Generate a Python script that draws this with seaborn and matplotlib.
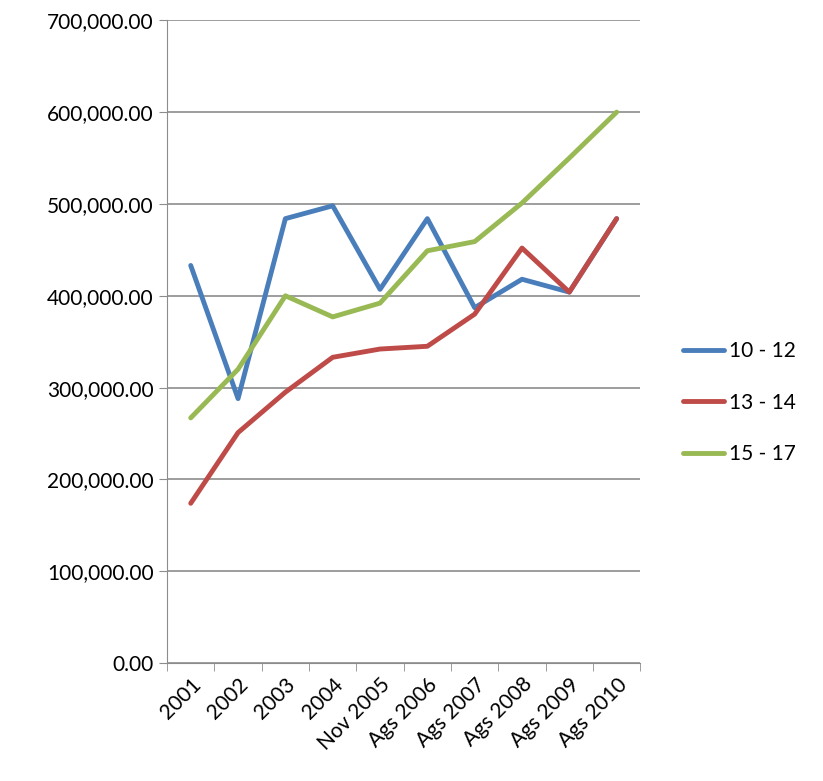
import matplotlib
matplotlib.use("Agg")
import matplotlib.pyplot as plt
import seaborn as sns
import pandas as pd

years = ["2001", "2002", "2003", "2004", "Nov 2005", "Ags 2006", "Ags 2007",
         "Ags 2008", "Ags 2009", "Ags 2010"]
age_10_12 = [433000, 288000, 484000, 498000, 407000, 484000, 387000, 418000, 404000, 484000]
age_13_14 = [174000, 251000, 295000, 333000, 342000, 345000, 380000, 452000, 404000, 484000]
age_15_17 = [267000, 320000, 400000, 377000, 392000, 449000, 459000, 501000, 550000, 600000]

df = pd.DataFrame({"year": years, "10 - 12": age_10_12,
                   "13 - 14": age_13_14, "15 - 17": age_15_17})
long = df.melt(id_vars="year", var_name="group", value_name="value")

sns.set_style("white")
plt.rcParams["font.family"] = ["Lato", "DejaVu Sans"]
plt.rcParams["text.color"] = "black"

fig = plt.figure(figsize=(8.23, 7.81), dpi=100)
ax = fig.add_axes([0.203, 0.151, 0.575, 0.823])
palette = {"10 - 12": "#4a7ebb", "13 - 14": "#be4b48", "15 - 17": "#98b954"}
sns.lineplot(data=long, x="year", y="value", hue="group", palette=palette,
             linewidth=3.5, sort=False, ax=ax)

ax.set_xlim(-0.5, len(years) - 0.5)
ax.set_ylim(0, 700000)
ax.set_yticks(range(0, 700001, 100000))
ax.set_yticklabels([f"{v:,.2f}" for v in range(0, 700001, 100000)], fontsize=15, color="black")
ax.set_xticks(range(len(years)))
ax.set_xticklabels(years, rotation=45, ha="right", rotation_mode="anchor", fontsize=15, color="black")
ax.set_xlabel("")
ax.set_ylabel("")
ax.grid(axis="y", color="#8c8c8c", linewidth=1.2)
for s in ["top", "right"]:
    ax.spines[s].set_visible(False)
for s in ["left", "bottom"]:
    ax.spines[s].set_color("#8c8c8c")
ax.tick_params(axis="both", length=6, color="#8c8c8c", direction="out", left=True, bottom=True)
ax.set_xticks([i + 0.5 for i in range(-1, len(years))], minor=True)
ax.tick_params(axis="x", which="major", length=0, pad=8)
ax.tick_params(axis="x", which="minor", length=6, color="#8c8c8c", bottom=True)

leg = ax.legend(loc="center left", bbox_to_anchor=(1.05, 0.405), frameon=False,
                fontsize=15, handlelength=2.0, handletextpad=0.2, labelspacing=1.5)
for t in leg.get_texts():
    t.set_color("black")

fig.savefig("out.png", dpi=100)
